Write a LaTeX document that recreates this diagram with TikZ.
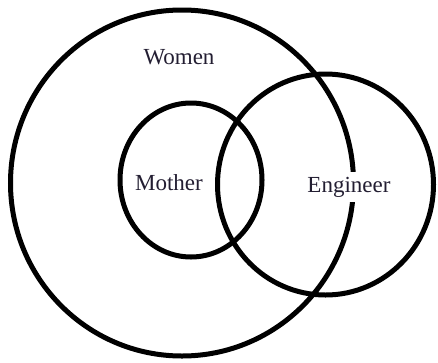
\documentclass[tikz,border=0pt]{standalone}
\usepackage{fontspec}
\setmainfont{Liberation Serif}
\usetikzlibrary{positioning}
\definecolor{labelink}{RGB}{35,30,50}
\tikzset{
  ring/.style={line width=5pt, draw=black},
  setlabel/.style={text=labelink, font=\fontsize{23}{27}\selectfont, inner sep=2pt, anchor=base}
}

\begin{document}
\begin{tikzpicture}[x=1pt,y=-1pt]
    \useasboundingbox (0,0) rectangle (438,362);

    % Women: the big outer set
    \draw[ring] (182,183) ellipse (171.5pt and 173pt);
    \node[setlabel] (women) at (179,64) {Women};

    % Mother: inside Women
    \draw[ring] (191,180) ellipse (71pt and 77pt);
    \node[setlabel] (mother) at (169,190) {Mother};

    % Engineer: overlaps Women and Mother
    \draw[ring] (325.5,184.5) ellipse (108pt and 110.5pt);

    % label sits on the Women line and blanks it out
    \node[setlabel, fill=white, inner ysep=5pt, inner xsep=1pt] (engineer) at (349,192) {Engineer};
  \end{tikzpicture}
\end{document}
